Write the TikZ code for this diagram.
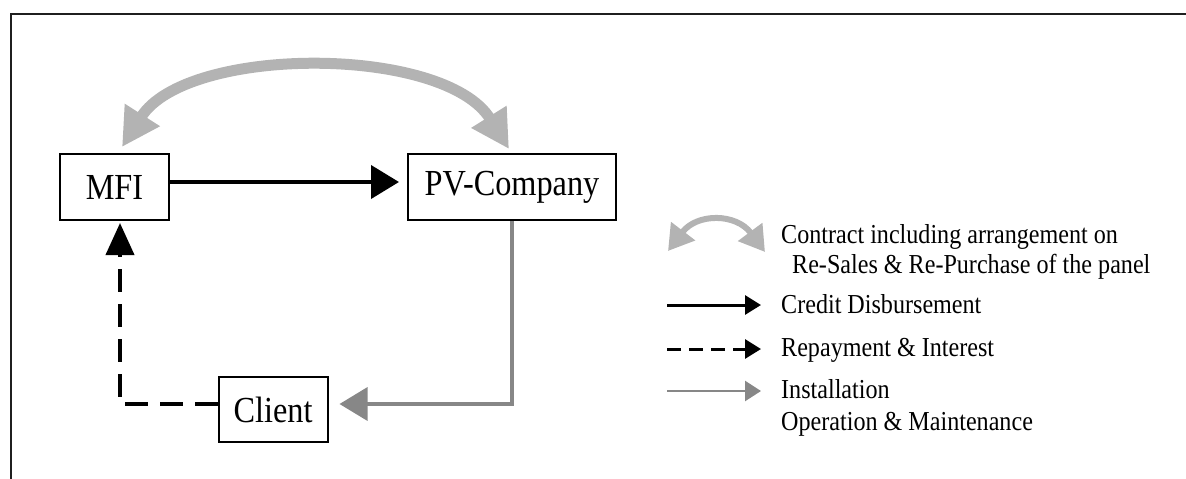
\documentclass[tikz,border=0pt]{standalone}
\usepackage{fontspec}
\setmainfont{Liberation Serif}[FakeStretch=0.88]
\usetikzlibrary{arrows.meta}
\definecolor{lightgr}{HTML}{B3B3B3}
\definecolor{midgr}{HTML}{878787}
\begin{document}
\begin{tikzpicture}[x=1pt,y=-1pt,
  box/.style={draw=black, line width=2pt, fill=white, minimum width=109pt, minimum height=66pt, inner sep=0pt, font=\fontsize{36.7}{40}\selectfont},
  credit/.style={line width=4pt, -{Triangle[length=28pt,width=33pt]}},
  repay/.style={line width=4pt, dash pattern=on 23pt off 12pt, -{Triangle[length=32pt,width=28pt]}},
  inst/.style={line width=3.5pt, draw=midgr, -{Triangle[length=28pt,width=33pt]}, midgr},
  contract/.style={line width=11pt, draw=lightgr, lightgr, {Triangle[length=38pt,width=39pt]}-{Triangle[length=38pt,width=39pt]}},
  lcontract/.style={line width=6pt, draw=lightgr, lightgr, {Triangle[length=25pt,width=29pt]}-{Triangle[length=25pt,width=29pt]}},
  lcredit/.style={line width=3pt, -{Triangle[length=16pt,width=19pt]}},
  lrepay/.style={line width=3pt, dash pattern=on 14pt off 8pt, -{Triangle[length=16pt,width=19pt]}},
  linst/.style={line width=2.5pt, draw=midgr, midgr, -{Triangle[length=16pt,width=20pt]}},
  legtext/.style={anchor=base west, inner sep=0pt, font=\fontsize{27.4}{31}\selectfont}
]
\useasboundingbox (0,0) rectangle (1186,479);
% frame
\draw[line width=2.2pt, draw=black!88] (11,479) -- (11,14) -- (1186,14);

% boxes
\node[box] (mfi) at (114.5,187) {MFI};
\node[box, minimum width=208pt] (pv) at (512,187) {PV-Company};
\node[box, minimum height=65pt] (client) at (273,409.5) {Client};

% connectors
\draw[credit] ([yshift=5pt]mfi.east) -- ([yshift=5pt,xshift=-8pt]pv.west);
\draw[repay] ([yshift=5.5pt]client.west) -| ([xshift=5.5pt,yshift=-2pt]mfi.south);
\draw[inst] (pv.south) |- ([yshift=5.5pt,xshift=11pt]client.east);

\coordinate (cl) at (122,147);
\coordinate (cr) at (509,149);
\draw[contract] (cl) .. controls (187,45) and (444,45) .. (cr);

% legend
\coordinate (l1a) at (668,251);
\coordinate (l1b) at (765,252);
\draw[lcontract] (l1a) .. controls (697,213) and (736,213) .. (l1b);
\coordinate (l2a) at (667,305);
\coordinate (l2b) at (761,305);
\draw[lcredit] (l2a) -- (l2b);
\coordinate (l3a) at (667,349);
\coordinate (l3b) at (761,349);
\draw[lrepay] (l3a) -- (l3b);
\coordinate (l4a) at (667,391);
\coordinate (l4b) at (761,391);
\draw[linst] (l4a) -- (l4b);

\node[legtext] (t1) at (781,243) {Contract including arrangement on};
\node[legtext] (t1b) at (792,273) {Re-Sales \& Re-Purchase of the panel};
\node[legtext] (t2) at (781,313) {Credit Disbursement};
\node[legtext] (t3) at (781,356) {Repayment \& Interest};
\node[legtext] (t4) at (781,398) {Installation};
\node[legtext] (t4b) at (781,430) {Operation \& Maintenance};
\end{tikzpicture}
\end{document}
